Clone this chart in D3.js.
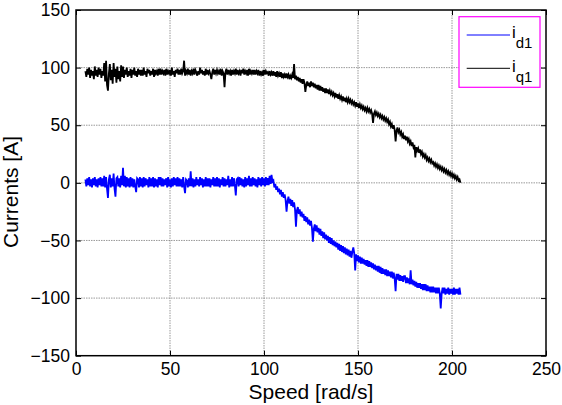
<!DOCTYPE html>
<html>
<head>
<meta charset="utf-8">
<script src="https://cdn.jsdelivr.net/npm/d3@7"></script>
<style>
  body { margin: 0; background: #fff; }
  svg { display: block; font-family: "Liberation Sans", Arial, sans-serif; }
</style>
</head>
<body>
<div id="chart"></div>
<script>
// speed samples [rad/s]
const speed = [
  5,5.5,6,6.5,7,7.5,8,8.5,9,9.5, 10,10.5,11,11.5,12,12.5,13,13.5,14,14.5,
  15,15.5,16,16.5,17,17.5,18,18.5,19,19.5, 20,20.5,21,21.5,22,22.5,23,23.5,24,24.5,
  25,25.5,26,26.5,27,27.5,28,28.5,29,29.5, 30,30.5,31,31.5,32,32.5,33,33.5,34,34.5,
  35,35.5,36,36.5,37,37.5,38,38.5,39,39.5, 40,40.5,41,41.5,42,42.5,43,43.5,44,44.5,
  45,45.5,46,46.5,47,47.5,48,48.5,49,49.5, 50,50.5,51,51.5,52,52.5,53,53.5,54,54.5,
  55,55.5,56,56.5,57,57.5,58,58.5,59,59.5, 60,60.5,61,61.5,62,62.5,63,63.5,64,64.5,
  65,65.5,66,66.5,67,67.5,68,68.5,69,69.5, 70,70.5,71,71.5,72,72.5,73,73.5,74,74.5,
  75,75.5,76,76.5,77,77.5,78,78.5,79,79.5, 80,80.5,81,81.5,82,82.5,83,83.5,84,84.5,
  85,85.5,86,86.5,87,87.5,88,88.5,89,89.5, 90,90.5,91,91.5,92,92.5,93,93.5,94,94.5,
  95,95.5,96,96.5,97,97.5,98,98.5,99,99.5, 100,100.5,101,101.5,102,102.5,103,103.5,104,104.5,
  105,105.5,106,106.5,107,107.5,108,108.5,109,109.5, 110,110.5,111,111.5,112,112.5,113,113.5,114,114.5,
  115,115.5,116,116.5,117,117.5,118,118.5,119,119.5, 120,120.5,121,121.5,122,122.5,123,123.5,124,124.5,
  125,125.5,126,126.5,127,127.5,128,128.5,129,129.5, 130,130.5,131,131.5,132,132.5,133,133.5,134,134.5,
  135,135.5,136,136.5,137,137.5,138,138.5,139,139.5, 140,140.5,141,141.5,142,142.5,143,143.5,144,144.5,
  145,145.5,146,146.5,147,147.5,148,148.5,149,149.5, 150,150.5,151,151.5,152,152.5,153,153.5,154,154.5,
  155,155.5,156,156.5,157,157.5,158,158.5,159,159.5, 160,160.5,161,161.5,162,162.5,163,163.5,164,164.5,
  165,165.5,166,166.5,167,167.5,168,168.5,169,169.5, 170,170.5,171,171.5,172,172.5,173,173.5,174,174.5,
  175,175.5,176,176.5,177,177.5,178,178.5,179,179.5, 180,180.5,181,181.5,182,182.5,183,183.5,184,184.5,
  185,185.5,186,186.5,187,187.5,188,188.5,189,189.5, 190,190.5,191,191.5,192,192.5,193,193.5,194,194.5,
  195,195.5,196,196.5,197,197.5,198,198.5,199,199.5, 200,200.5,201,201.5,202,202.5,203,203.5,204,204.5
];

// d-axis current [A]
const id1 = [
  3,-3,4,-2,5,-3,3,-4,4,-2, 5,-3,3,-4,4,-2,5,-3,4,-3,
  6,-4,5,-5,-13,3,7,-4,4,-3, 8,-5,-12,4,5,-3,4,-4,6,-2,
  13,-3,6,-4,5,-3,4,-4,5,-3, 4,-4,3,-3,-8,4,3,-4,5,-3,
  4,-4,5,-3,4,-2,3,-4,5,-3, 4,-3,5,-4,4,-3,3,-4,5,-2,
  5,-3,4,-3,3,-2,4,-4,5,-3, 3,-4,4,-3,5,-2,4,-3,5,-3,
  4,-3,3,-4,5,-3,-9,3,2,-4, 4,-3,10,-3,4,-4,3,-3,5,-2,
  3,-3,5,-2,4,-4,3,-3,5,-3, 4,-3,4,-4,3,-2,5,-3,4,-3,
  5,-3,4,-4,3,-2,5,-3,4,-3, 3,-2,6,-4,3,-3,5,-3,4,-2,
  -11,3,4,-3,5,-2,4,-3,3,-4, 5,-3,4,-2,6,-3,4,-3,5,-2,
  4,-3,3,-4,5,-2,4,-3,5,-2, 4,-3,5,-2,4,-2,6,-1,7,1,
  2,-4,-1,-6,-3,-8,-5,-10,-6,-12, -8,-13,-10,-15,-25,-16,-12,-18,-14,-20,
  -15,-21,-17,-23,-38,-24,-21,-27,-23,-29, -25,-30,-27,-33,-29,-34,-30,-36,-32,-37,
  -33,-39,-51,-40,-36,-42,-37,-43,-39,-45, -40,-46,-42,-48,-43,-49,-45,-50,-46,-52,
  -47,-53,-48,-54,-50,-55,-51,-56,-52,-58, -53,-59,-54,-60,-55,-61,-56,-62,-57,-63,
  -58,-64,-59,-65,-60,-56,-61,-76,-62,-68, -63,-69,-64,-70,-65,-70,-66,-71,-67,-72,
  -67,-73,-68,-73,-69,-74,-70,-75,-71,-76, -72,-77,-72,-78,-73,-79,-74,-79,-75,-80,
  -75,-81,-76,-81,-77,-82,-77,-83,-78,-83, -94,-79,-84,-79,-85,-80,-85,-81,-86,-81,
  -81,-87,-82,-87,-83,-88,-76,-88,-84,-89, -85,-90,-86,-91,-87,-91,-87,-92,-88,-93,
  -88,-93,-88,-94,-89,-94,-90,-95,-90,-95, -90,-95,-91,-96,-91,-96,-91,-96,-109,-96,
  -91,-96,-91,-97,-92,-96,-91,-97,-92,-96, -92,-97,-91,-97,-92,-96,-92,-97,-91,-97
];

// q-axis current [A]
const iq1 = [
  97,92,99,94,100,91,98,93,97,90, 101,93,98,92,100,94,99,91,97,93,
  104,88,106,85,80,95,103,89,98,86, 104,92,99,87,101,90,97,88,102,92,
  101,91,98,94,100,92,97,93,99,91, 98,94,100,93,97,92,99,94,98,93,
  98,93,100,94,97,92,99,95,98,93, 97,94,99,92,98,95,97,93,99,94,
  99,94,97,95,98,93,99,94,97,95, 98,93,100,94,97,92,98,95,99,94,
  98,94,99,95,97,106,93,97,95,99, 94,98,93,97,95,99,94,98,96,93,
  97,94,100,95,98,94,97,93,99,94, 98,95,97,94,90,96,99,94,98,95,
  98,95,97,94,99,93,97,95,83,96, 99,94,98,95,97,93,98,94,97,95,
  99,94,98,95,97,93,98,95,99,94, 97,95,98,93,99,94,97,95,98,94,
  98,94,97,95,98,93,97,94,96,93, 98,94,97,95,96,93,97,94,96,93,
  97,93,96,92,97,93,95,92,96,91, 95,92,94,91,95,92,94,90,93,91,
  94,91,103,90,93,89,92,88,91,87, 90,86,90,87,79,85,88,84,87,83,
  88,84,87,83,86,82,85,81,85,80, 84,80,83,79,82,78,82,78,81,77,
  80,77,79,76,78,75,78,74,77,73, 76,73,75,72,75,71,74,70,73,70,
  73,70,72,69,71,68,70,67,70,66, 69,65,68,65,67,64,66,63,65,62,
  65,62,64,61,63,60,52,60,62,59, 61,58,60,57,59,56,58,55,57,54,
  56,53,55,51,53,49,51,47,50,46, 36,45,48,44,46,42,44,40,42,38,
  41,37,40,36,38,34,36,32,35,31, 33,22,31,28,30,26,29,25,27,23,
  25,22,24,20,22,19,21,18,20,17, 18,15,17,14,16,13,15,12,14,11,
  13,10,12,9,11,8,10,7,9,6, 8,5,7,4,6,3,5,2,3,0
];

const xTicks = [0, 50, 100, 150, 200, 250];
const yTicks = [-150, -100, -50, 0, 50, 100, 150];

const width = 562, height = 405;
const margin = { top: 10, right: 16, bottom: 49.3, left: 76 };
const w = width - margin.left - margin.right;
const h = height - margin.top - margin.bottom;

const svg = d3.select("#chart").append("svg")
    .attr("width", width)
    .attr("height", height);

const g = svg.append("g")
    .attr("transform", "translate(" + margin.left + "," + margin.top + ")");

const x = d3.scaleLinear().domain([0, 250]).range([0, w]);
const y = d3.scaleLinear().domain([-150, 150]).range([h, 0]);

// dotted grid
g.append("g").selectAll("line")
    .data(xTicks.slice(1, -1))
    .enter().append("line")
    .attr("x1", d => x(d)).attr("x2", d => x(d))
    .attr("y1", 0).attr("y2", h)
    .attr("stroke", "#808080").attr("stroke-width", 0.8)
    .attr("stroke-dasharray", "1.5,1");

g.append("g").selectAll("line")
    .data(yTicks.slice(1, -1))
    .enter().append("line")
    .attr("y1", d => y(d)).attr("y2", d => y(d))
    .attr("x1", 0).attr("x2", w)
    .attr("stroke", "#808080").attr("stroke-width", 0.8)
    .attr("stroke-dasharray", "1.5,1");

// data
const line = d3.line()
    .x((d, i) => x(speed[i]))
    .y(d => y(d));

g.append("path")
    .datum(id1)
    .attr("d", line)
    .attr("fill", "none")
    .attr("stroke", "#0000ff")
    .attr("stroke-width", 1.8);

g.append("path")
    .datum(iq1)
    .attr("d", line)
    .attr("fill", "none")
    .attr("stroke", "#000000")
    .attr("stroke-width", 1.8);

// axes, ticks pointing inwards on all four sides
const xAxis = g.append("g")
    .attr("transform", "translate(0," + h + ")")
    .call(d3.axisBottom(x).tickValues(xTicks).tickSize(-5).tickPadding(7).tickSizeOuter(0));
const yAxis = g.append("g")
    .call(d3.axisLeft(y).tickValues(yTicks).tickSize(-5).tickPadding(6).tickSizeOuter(0));
g.append("g")
    .call(d3.axisTop(x).tickValues(xTicks).tickSize(-5).tickFormat("").tickSizeOuter(0));
g.append("g")
    .attr("transform", "translate(" + w + ",0)")
    .call(d3.axisRight(y).tickValues(yTicks).tickSize(-5).tickFormat("").tickSizeOuter(0));

g.selectAll(".domain").remove();
g.selectAll(".tick line").attr("stroke", "#000").attr("stroke-width", 1);
[xAxis, yAxis].forEach(a => a.selectAll("text")
    .style("font-size", "17.5px")
    .style("font-family", "'Liberation Sans', Arial, sans-serif")
    .attr("fill", "#000"));

// box
g.append("rect")
    .attr("width", w).attr("height", h)
    .attr("fill", "none")
    .attr("stroke", "#000")
    .attr("stroke-width", 1.5);

// axis labels
svg.append("text")
    .attr("x", margin.left + w / 2)
    .attr("y", 399)
    .attr("text-anchor", "middle")
    .style("font-size", "21px")
    .text("Speed [rad/s]");

svg.append("text")
    .attr("transform", "translate(18," + 192 + ") rotate(-90)")
    .attr("text-anchor", "middle")
    .style("font-size", "21px")
    .text("Currents [A]");

// legend
const legend = svg.append("g");
legend.append("rect")
    .attr("x", 459).attr("y", 16.7)
    .attr("width", 81).attr("height", 70.6)
    .attr("fill", "#fff")
    .attr("stroke", "#ff00ff")
    .attr("stroke-width", 1.2);

const legendItems = [
    { sub: "d1", color: "#0000ff", ly: 35 },
    { sub: "q1", color: "#000000", ly: 68.3 }
];

legendItems.forEach(function (d) {
    legend.append("line")
        .attr("x1", 466.7).attr("x2", 510)
        .attr("y1", d.ly).attr("y2", d.ly)
        .attr("stroke", d.color).attr("stroke-width", 1);
    const t = legend.append("text")
        .attr("x", 512)
        .attr("y", d.ly + 3.3)
        .style("font-size", "17px");
    t.append("tspan").text("i");
    t.append("tspan")
        .attr("dy", 10)
        .style("font-size", "15px")
        .text(d.sub);
});
</script>
</body>
</html>
